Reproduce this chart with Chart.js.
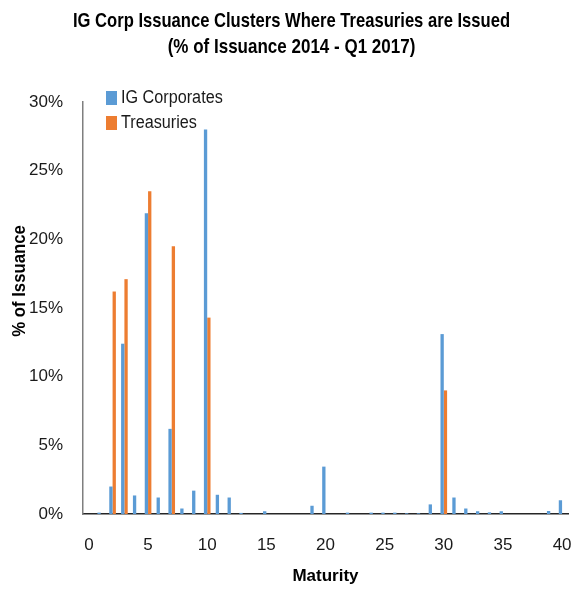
<!DOCTYPE html>
<html>
<head>
<meta charset="utf-8">
<script src="https://cdn.jsdelivr.net/npm/chart.js@4"></script>
<style>
  html, body { margin: 0; padding: 0; background: #ffffff; }
  #wrap { width: 585px; height: 590px; }
</style>
</head>
<body>
<div id="wrap"><canvas id="chart" width="585" height="590"></canvas></div>
<script>
// Maturity buckets (years)
const maturities = [
  0, 1, 2, 3, 4, 5, 6, 7, 8, 9, 10, 11, 12, 13, 14, 15, 16, 17, 18, 19, 20,
  21, 22, 23, 24, 25, 26, 27, 28, 29, 30, 31, 32, 33, 34, 35, 36, 37, 38, 39, 40
];

// Share of IG corporate issuance by maturity (%)
const igCorporates = [
  0, 0.1, 2.0, 12.4, 1.35, 21.9, 1.2, 6.2, 0.4, 1.7, 28.0,
  1.4, 1.2, 0.08, 0, 0.2, 0, 0, 0, 0.6, 3.45,
  0, 0.1, 0, 0.1, 0.1, 0.1, 0.05, 0.05, 0.7, 13.1,
  1.2, 0.4, 0.2, 0.12, 0.2, 0, 0, 0, 0.22, 1.0
];

// Share of Treasury issuance by maturity (%)
const treasuries = [
  null, null, 16.2, 17.1, null, 23.5, null, 19.5, null, null, 14.3,
  null, null, null, null, null, null, null, null, null, null,
  null, null, null, null, null, null, null, null, null, 9.0,
  null, null, null, null, null, null, null, null, null, null
];

const seriesNames = ['IG Corporates', 'Treasuries'];
const titleLines = ['IG Corp Issuance Clusters Where Treasuries are Issued', '(% of Issuance 2014 - Q1 2017)'];
const yTitle = '% of Issuance';
const xTitle = 'Maturity';

const FONT = "'Liberation Sans', Arial, sans-serif";
const BLUE = '#5B9BD5';
const ORANGE = '#ED7D31';

// Draws text squeezed horizontally to give a narrower face
function narrowText(ctx, text, x, y, squeeze) {
  ctx.save();
  ctx.translate(x, y);
  ctx.scale(squeeze, 1);
  ctx.fillText(text, 0, 0);
  ctx.restore();
}

// Chart title and the rotated value-axis title
const headings = {
  id: 'headings',
  afterDraw(chart) {
    const { ctx, width } = chart;
    ctx.save();
    ctx.fillStyle = '#000000';
    ctx.textAlign = 'center';
    ctx.textBaseline = 'middle';
    ctx.font = 'bold 21px ' + FONT;
    narrowText(ctx, titleLines[0], width / 2 - 1, 21, 0.79);
    narrowText(ctx, titleLines[1], width / 2 - 1, 47, 0.81);

    ctx.font = 'bold 19px ' + FONT;
    ctx.translate(19.5, 281);
    ctx.rotate(-Math.PI / 2);
    narrowText(ctx, yTitle, 0, 0, 0.88);
    ctx.restore();
  }
};

// Legend drawn inside the plot area, stacked vertically at the top-left
const insideLegend = {
  id: 'insideLegend',
  afterDraw(chart) {
    const { ctx, chartArea } = chart;
    ctx.save();
    ctx.font = '18px ' + FONT;
    ctx.textBaseline = 'middle';
    ctx.textAlign = 'left';
    chart.data.datasets.forEach((ds, i) => {
      const cy = chartArea.top - 4 + i * 25;
      ctx.fillStyle = ds.backgroundColor;
      ctx.fillRect(chartArea.left + 23, cy - 7, 11, 14);
      ctx.fillStyle = '#1a1a1a';
      narrowText(ctx, ds.label, chartArea.left + 38, cy, 0.9);
    });
    ctx.restore();
  }
};

new Chart(document.getElementById('chart'), {
  type: 'bar',
  data: {
    labels: maturities,
    datasets: [
      { label: seriesNames[0], data: igCorporates, backgroundColor: BLUE },
      { label: seriesNames[1], data: treasuries, backgroundColor: ORANGE }
    ]
  },
  options: {
    responsive: false,
    animation: false,
    devicePixelRatio: 1,
    layout: { padding: { top: 102, right: 17, bottom: 0, left: 0 } },
    datasets: {
      bar: { categoryPercentage: 0.56, barPercentage: 1.0, borderWidth: 0 }
    },
    plugins: {
      legend: { display: false },
      tooltip: { enabled: false },
      title: { display: false }
    },
    scales: {
      x: {
        type: 'category',
        grid: { display: false, drawTicks: false },
        border: { display: true, color: '#262626', width: 1.5 },
        ticks: {
          autoSkip: false,
          maxRotation: 0,
          padding: 21,
          color: '#1a1a1a',
          font: { family: FONT, size: 17 },
          callback: function (value, index) {
            const m = maturities[index];
            return m % 5 === 0 ? String(m) : '';
          }
        },
        title: {
          display: true,
          text: xTitle,
          color: '#000000',
          font: { family: FONT, size: 17, weight: 'bold' },
          padding: { top: 0, bottom: 3 }
        },
        afterFit(scale) {
          scale.height = 76;
          // end labels sit inside the offset bands, so no side overflow is needed
          scale.paddingLeft = 0;
          scale.paddingRight = 0;
        }
      },
      y: {
        min: 0,
        max: 30,
        grid: { display: false, drawTicks: false },
        border: { display: true, color: '#7f7f7f', width: 1.5 },
        ticks: {
          stepSize: 5,
          padding: 20,
          color: '#1a1a1a',
          font: { family: FONT, size: 17 },
          callback: v => v + '%'
        },
        title: { display: false },
        afterFit(scale) { scale.width = 83; }
      }
    }
  },
  plugins: [headings, insideLegend]
});
</script>
</body>
</html>
